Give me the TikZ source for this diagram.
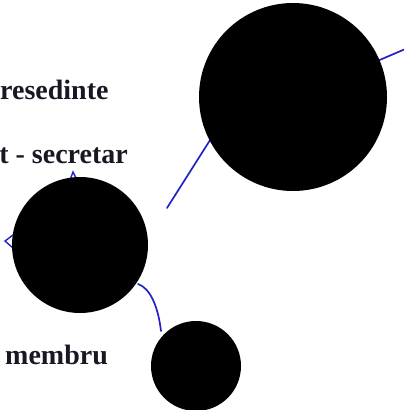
\documentclass[tikz,border=0pt]{standalone}
\usepackage{fontspec}
\setmainfont{Liberation Serif}
\usetikzlibrary{positioning,calc,arrows.meta}
\definecolor{linkblue}{RGB}{35,35,195}
\definecolor{inkdark}{RGB}{24,24,36}

\begin{document}
\begin{tikzpicture}[x=1pt, y=-1pt,
        blob/.style={circle, fill=black, inner sep=0pt},
        lbl/.style={font=\bfseries\fontsize{28}{31}\selectfont, text=inkdark, inner sep=0pt},
        link/.style={draw=linkblue, line width=1.7pt, line cap=round},
        tip/.style={draw=linkblue, line width=1.4pt, line join=miter}
    ]
        \useasboundingbox (0,0) rectangle (404,410);
        \clip (0,0) rectangle (404,410);

        % Labels
        \node [lbl, anchor=base west] (lblpres) at (0,99) {resedinte};
        \node [lbl, anchor=base east] (lblsecr) at (128,163) {t - secretar};
        \node [lbl, anchor=base west] (lblmemb) at (5,364) {membru};

        % Link end points
        \coordinate (secrOut) at (167,208);
        \coordinate (presIn) at (238,96);
        \coordinate (presOut) at (410,47);
        \coordinate (curveOut) at (138,284);
        \coordinate (membIn) at (161,331);

        % Links
        \draw [link] (secrOut) -- (presIn);
        \draw [link] (293,97) -- (presOut);
        \draw [link] (curveOut) .. controls (150,288) and (158,306) .. (membIn);

        % Arrow heads
        \draw [tip] (70,180) -- (73,172) -- (77,180);
        \draw [tip] (13,235) -- (5,241) -- (13,248);

        % Circles
        \node [blob, minimum size=188pt] (pres) at (293,97) {};
        \node [blob, minimum size=136pt] (secr) at (80,245) {};
        \node [blob, minimum size=90pt] (memb) at (196,366) {};

    \end{tikzpicture}
\end{document}
